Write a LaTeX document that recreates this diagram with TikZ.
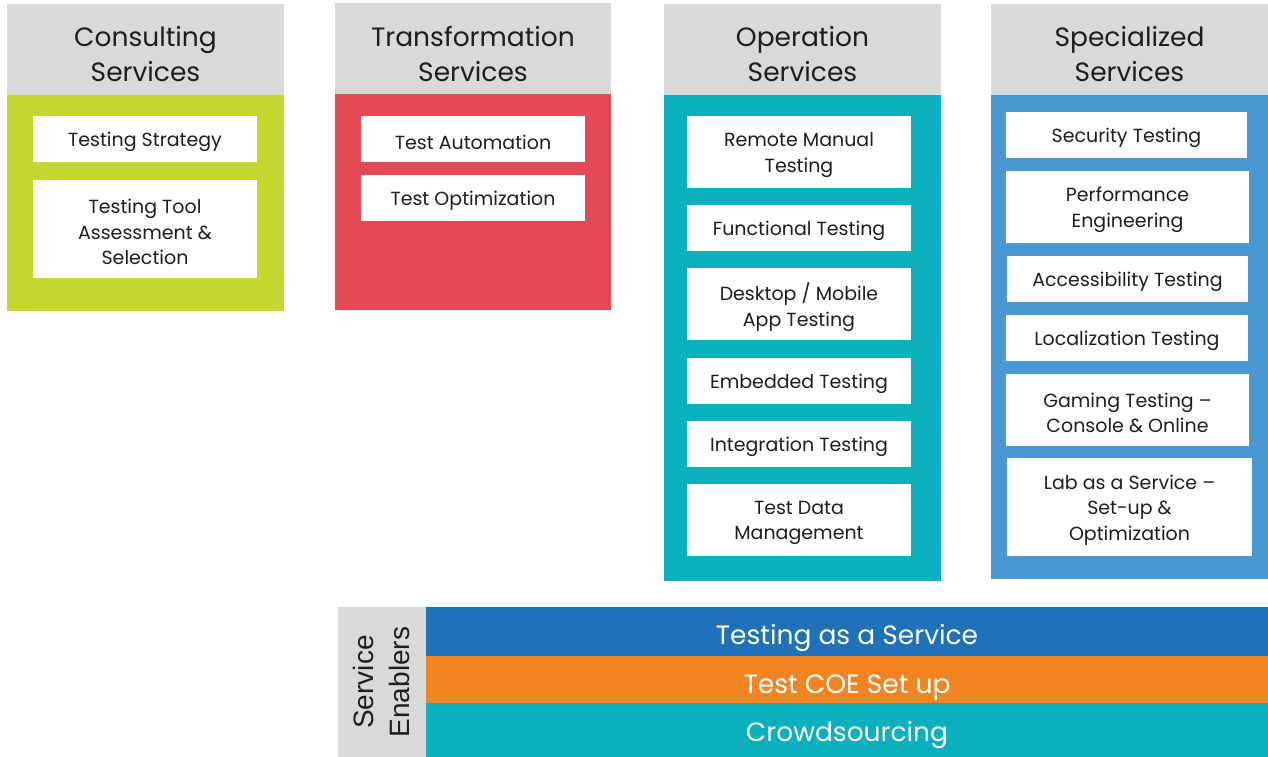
\documentclass[tikz,border=0pt]{standalone}
\usepackage{fontspec}
\setmainfont{Poppins}
\newfontfamily\sefont{Liberation Sans}
\definecolor{hdrgray}{HTML}{D9D9D8}
\definecolor{cgreen}{HTML}{C2D82F}
\definecolor{cred}{HTML}{E34A56}
\definecolor{cteal}{HTML}{0AB0BD}
\definecolor{cblue}{HTML}{4A98D3}
\definecolor{bblue}{HTML}{1F71B8}
\definecolor{borange}{HTML}{F38422}
\definecolor{txt}{HTML}{1E1E1E}
\newcommand\cellbox[7]{% name, style, x, y, w, h, text
  \node[#2,minimum width=#5pt,minimum height=#6pt] (#1) at (#3,#4) {};
  \node[#2txt] (#1t) at (#1.center) {#7};}
\begin{document}
\begin{tikzpicture}[x=1pt,y=-1pt,
  every node/.style={inner sep=0pt,outer sep=0pt,align=center,text=txt},
  hdr/.style={fill=hdrgray},
  hdrtxt/.style={yshift=-5pt,font=\fontsize{26.5}{35}\selectfont},
  item/.style={fill=white},
  itemtxt/.style={yshift=-3pt,font=\fontsize{19}{25.5}\selectfont},
  bandA/.style={fill=bblue},
  bandB/.style={fill=borange},
  bandC/.style={fill=cteal},
  bandtxt/.style={text=white,font=\fontsize{26.5}{32}\selectfont},
  bandAtxt/.style={bandtxt,yshift=-6pt},
  bandBtxt/.style={bandtxt,yshift=-8pt},
  bandCtxt/.style={bandtxt,yshift=-5pt}]
\useasboundingbox (0,0) rectangle (1268,757);
% Consulting
\cellbox{h1}{hdr}{145.5}{49.5}{277}{91}{Consulting\\Services}
\node[fill=cgreen,minimum width=277pt,minimum height=216pt] (b1) at (145.5,203) {};
\cellbox{c11}{item}{145}{139}{224}{46}{Testing Strategy}
\cellbox{c12}{item}{145}{229}{224}{98}{Testing Tool\\Assessment \&\\Selection}
% Transformation
\cellbox{h2}{hdr}{473}{48.5}{276}{91}{Transformation\\Services}
\node[fill=cred,minimum width=276pt,minimum height=216pt] (b2) at (473,202) {};
\cellbox{c21}{item}{473}{139}{224}{46}{Test Automation}
\cellbox{c22}{item}{473}{198}{224}{46}{Test Optimization}
% Operation
\cellbox{h3}{hdr}{802.5}{49.5}{277}{91}{Operation\\Services}
\node[fill=cteal,minimum width=277pt,minimum height=486pt] (b3) at (802.5,338) {};
\cellbox{c31}{item}{799}{152}{224}{72}{Remote Manual\\Testing}
\cellbox{c32}{item}{799}{228}{224}{46}{Functional Testing}
\cellbox{c33}{item}{799}{304}{224}{72}{Desktop / Mobile\\App Testing}
\cellbox{c34}{item}{799}{381}{224}{46}{Embedded Testing}
\cellbox{c35}{item}{799}{444}{224}{46}{Integration Testing}
\cellbox{c36}{item}{799}{520}{224}{72}{Test Data\\Management}
% Specialized
\cellbox{h4}{hdr}{1129.5}{49.5}{277}{91}{Specialized\\Services}
\node[fill=cblue,minimum width=277pt,minimum height=484pt] (b4) at (1129.5,337) {};
\cellbox{c41}{item}{1126.5}{135}{241}{46}{Security Testing}
\cellbox{c42}{item}{1127.5}{207}{243}{72}{Performance\\Engineering}
\cellbox{c43}{item}{1127.5}{279}{241}{46}{Accessibility Testing}
\cellbox{c44}{item}{1127}{338}{242}{46}{Localization Testing}
\cellbox{c45}{item}{1127.5}{410}{243}{72}{Gaming Testing –\\Console \& Online}
\cellbox{c46}{item}{1129.5}{507}{245}{98}{Lab as a Service –\\Set-up \&\\Optimization}
% Service enablers
\node[fill=hdrgray,minimum width=88pt,minimum height=150pt] (se) at (382,682) {};
\node[rotate=90,font=\sefont\fontsize{28}{36}\selectfont] (selbl) at ([xshift=-0.5pt]se.center) {Service\\Enablers};
\cellbox{e1}{bandA}{847}{631.5}{842}{49}{Testing as a Service}
\cellbox{e2}{bandB}{847}{679.5}{842}{47}{Test COE Set up}
\cellbox{e3}{bandC}{847}{730}{842}{54}{Crowdsourcing}
\end{tikzpicture}
\end{document}
